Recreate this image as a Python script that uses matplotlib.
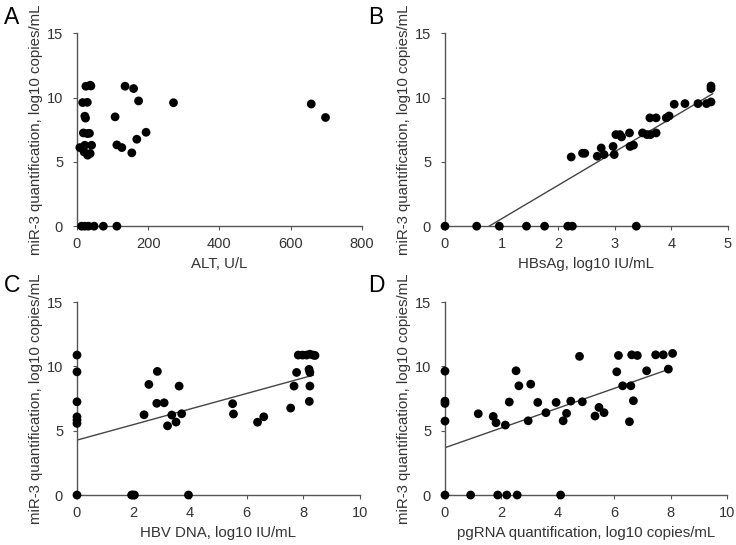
import matplotlib.pyplot as plt
import numpy as np

# Panel A: ALT vs miR-3
alt_x = [13, 22, 32, 48, 74, 112,
         25, 37, 39, 16, 29, 22, 24, 18, 29, 35, 8, 22, 41, 20, 30, 37,
         107, 135, 159, 173, 112, 126, 154, 168, 194, 271, 658, 698]
alt_y = [0, 0, 0, 0, 0, 0,
         10.88, 10.96, 10.9, 9.61, 9.63, 8.55, 8.4, 7.25, 7.2, 7.22, 6.11, 6.29, 6.29, 5.77, 5.52, 5.65,
         8.5, 10.88, 10.7, 9.74, 6.32, 6.11, 5.7, 6.76, 7.3, 9.6, 9.5, 8.45]

# Panel B: HBsAg vs miR-3
hbs_x = [0, 0.56, 0.96, 1.44, 1.76, 2.17, 2.25, 3.38,
         2.23, 2.43, 2.47, 2.69, 2.76, 2.81, 2.97, 2.99, 3.02, 3.09, 3.12,
         3.26, 3.27, 3.33, 3.49, 3.57, 3.63, 3.73, 3.62, 3.73, 3.91, 3.96,
         4.05, 4.24, 4.47, 4.62, 4.7, 4.7, 4.7]
hbs_y = [0, 0, 0, 0, 0, 0, 0, 0,
         5.38, 5.67, 5.67, 5.44, 6.08, 5.57, 6.2, 5.57, 7.12, 7.12, 6.94,
         7.25, 6.2, 6.3, 7.25, 7.12, 7.12, 7.25, 8.42, 8.42, 8.42, 8.57,
         9.48, 9.53, 9.53, 9.53, 9.66, 10.9, 10.7]
hbs_fit = [0.78, 4.73]
hbs_fit_y = [0, 10.3]

# Panel C: HBV DNA vs miR-3
dna_x = [0, 1.93, 1.97, 2.03, 3.94,
         0, 0, 0, 0, 0, 0,
         2.37, 2.54, 2.84, 2.82, 3.08, 3.35, 3.2, 3.5, 3.61, 3.7,
         5.5, 5.53, 6.38, 6.6, 7.55, 7.67, 7.76,
         7.82, 7.97, 8.11, 8.23, 8.35, 8.41, 8.2, 8.23, 8.23, 8.21]
dna_y = [0, 0, 0, 0, 0,
         10.88, 9.58, 7.25, 6.08, 5.83, 5.57,
         6.24, 8.6, 9.61, 7.13, 7.17, 6.22, 5.38, 5.67, 8.47, 6.32,
         7.1, 6.3, 5.66, 6.08, 6.76, 8.47, 9.53,
         10.88, 10.88, 10.88, 10.95, 10.88, 10.85, 9.77, 9.53, 8.47, 7.28]
dna_fit = [0, 8.35]
dna_fit_y = [4.27, 9.32]

# Panel D: pgRNA vs miR-3
pg_x = [0, 0.91, 1.87, 2.19, 2.56, 4.1,
        0, 0, 0, 0,
        1.18, 1.71, 1.81, 2.14, 2.28, 2.52, 2.62, 3.04, 2.95, 3.29, 3.58, 3.94,
        4.19, 4.31, 4.46, 4.77, 4.87, 5.32, 5.46, 5.64, 6.09, 6.15, 6.3, 6.59,
        6.54, 6.68, 6.62, 6.82, 7.15, 7.47, 7.74, 7.92, 8.07]
pg_y = [0, 0, 0, 0, 0, 0,
        9.63, 7.3, 7.12, 5.75,
        6.32, 6.11, 5.62, 5.44, 7.23, 9.66, 8.49, 8.62, 5.77, 7.2, 6.4, 7.2,
        5.77, 6.35, 7.3, 10.78, 7.25, 6.14, 6.81, 6.4, 9.58, 10.85, 8.49, 8.49,
        5.7, 7.33, 10.9, 10.85, 9.66, 10.9, 10.9, 9.79, 11.01]
pg_fit = [0, 7.9]
pg_fit_y = [3.68, 9.75]

ylabel = "miR-3 quantification, log10 copies/mL"
gray = "#555555"
txt = "#333333"

plt.rcParams['font.family'] = ['Liberation Sans', 'DejaVu Sans']

fig = plt.figure(figsize=(7.36, 5.45), dpi=100)

panels = [
    ("A", [0.1046, 0.585, 0.387, 0.354], (0.0163, 0.967), alt_x, alt_y, None, None,
     800, [0, 200, 400, 600, 800], "ALT, U/L"),
    ("B", [0.6046, 0.585, 0.3845, 0.354], (0.511, 0.967), hbs_x, hbs_y, hbs_fit, hbs_fit_y,
     5, [0, 1, 2, 3, 4, 5], "HBsAg, log10 IU/mL"),
    ("C", [0.1046, 0.0917, 0.3845, 0.354], (0.0163, 0.477), dna_x, dna_y, dna_fit, dna_fit_y,
     10, [0, 2, 4, 6, 8, 10], "HBV DNA, log10 IU/mL"),
    ("D", [0.6046, 0.0917, 0.3832, 0.354], (0.511, 0.477), pg_x, pg_y, pg_fit, pg_fit_y,
     10, [0, 2, 4, 6, 8, 10], "pgRNA quantification, log10 copies/mL"),
]

for letter, rect, lpos, x, y, fx, fy, xmax, xticks, xlabel in panels:
    ax = fig.add_axes(rect)
    if fx is not None:
        ax.plot(fx, fy, color="#444444", linewidth=1.0, zorder=2)
    ax.scatter(x, y, s=40, color="black", edgecolors="none", zorder=3, clip_on=False)
    ax.set_xlim(0, xmax)
    ax.set_ylim(0, 15)
    ax.set_xticks(xticks)
    ax.set_yticks([0, 5, 10, 15])
    for side in ["top", "right"]:
        ax.spines[side].set_visible(False)
    for side in ["left", "bottom"]:
        ax.spines[side].set_color(gray)
        ax.spines[side].set_linewidth(1.0)
    ax.tick_params(direction="out", length=3, width=0.8, color=gray,
                   labelsize=10.5, labelcolor=txt)
    ax.tick_params(axis="x", pad=5)
    ax.tick_params(axis="y", pad=7)
    ax.set_xlabel(xlabel, fontsize=10.8, color=txt, labelpad=4)
    ax.set_ylabel(ylabel, fontsize=10.8, color=txt, labelpad=3)
    fig.text(lpos[0], lpos[1], letter, fontsize=16.5,
             color="black", ha="center", va="center")

fig.savefig("out.png", dpi=100)
